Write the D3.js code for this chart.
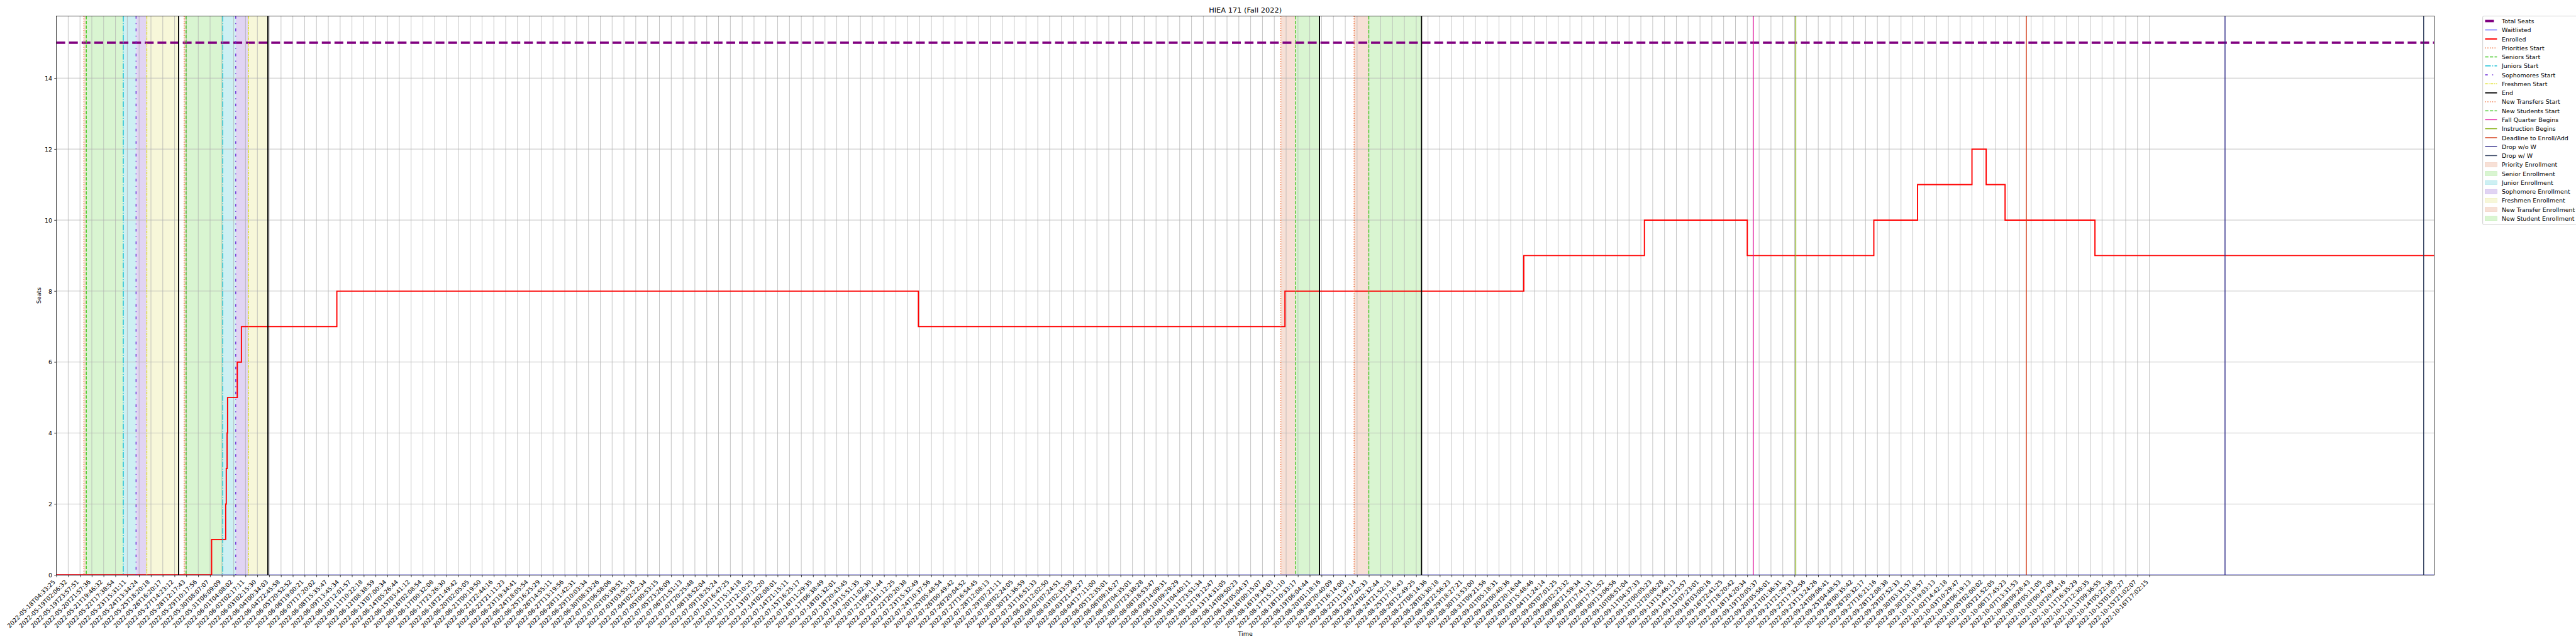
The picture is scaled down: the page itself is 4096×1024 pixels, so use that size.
<!DOCTYPE html>
<html><head><meta charset="utf-8">
<script src="https://cdn.jsdelivr.net/npm/d3@7"></script>
<style>
body{margin:0;background:#fff}
svg{display:block}
text{font-family:"DejaVu Sans",sans-serif}
</style>
</head><body>
<svg id="chart" width="4096" height="1024"></svg>
<script>
// ---------------- DATA ----------------
const chartTitle = "HIEA 171 (Fall 2022)";
const xAxisTitle = "Time";
const yAxisTitle = "Seats";

const tickLabels = [
"2022-05-18T04:33:25","2022-05-19T02:06:32","2022-05-19T23:57:51","2022-05-20T21:57:36","2022-05-21T19:46:32",
"2022-05-22T17:38:54","2022-05-23T15:31:11","2022-05-24T13:34:24","2022-05-25T18:20:18","2022-05-26T16:20:17",
"2022-05-27T14:23:12","2022-05-28T12:17:43","2022-05-29T10:17:56","2022-05-30T08:07:07","2022-05-31T06:09:09",
"2022-06-01T04:08:02","2022-06-02T02:17:11","2022-06-03T02:15:30","2022-06-04T00:34:03","2022-06-04T22:45:58",
"2022-06-05T20:52:52","2022-06-06T19:00:21","2022-06-07T17:20:02","2022-06-08T15:35:47","2022-06-09T13:45:34",
"2022-06-10T12:01:57","2022-06-11T10:22:18","2022-06-12T08:38:59","2022-06-13T07:00:34","2022-06-14T05:26:44",
"2022-06-15T03:41:12","2022-06-16T02:08:54","2022-06-17T00:32:08","2022-06-17T23:26:30","2022-06-18T21:49:42",
"2022-06-20T02:05:05","2022-06-21T00:19:50","2022-06-21T22:44:16","2022-06-22T21:11:23","2022-06-23T19:34:41",
"2022-06-24T18:05:54","2022-06-25T16:25:29","2022-06-26T14:55:11","2022-06-27T13:19:56","2022-06-28T11:42:31",
"2022-06-29T10:03:34","2022-06-30T08:33:26","2022-07-01T06:58:06","2022-07-02T05:39:51","2022-07-03T03:55:16",
"2022-07-04T02:22:34","2022-07-05T00:53:15","2022-07-05T23:26:09","2022-07-06T21:51:13","2022-07-07T20:25:48",
"2022-07-08T18:52:04","2022-07-09T18:25:24","2022-07-10T16:47:25","2022-07-11T15:14:18","2022-07-12T12:10:25",
"2022-07-13T07:12:20","2022-07-14T02:08:01","2022-07-14T21:15:11","2022-07-15T16:25:17","2022-07-16T11:29:35",
"2022-07-17T06:38:49","2022-07-18T01:32:01","2022-07-18T20:43:45","2022-07-19T15:51:35","2022-07-20T11:02:30",
"2022-07-21T06:11:44","2022-07-22T01:12:25","2022-07-22T20:20:38","2022-07-23T15:32:49","2022-07-24T10:37:56",
"2022-07-25T05:48:54","2022-07-26T00:49:42","2022-07-26T20:04:52","2022-07-27T16:54:45","2022-07-28T12:08:13",
"2022-07-29T07:21:11","2022-07-30T02:24:05","2022-07-30T21:36:59","2022-07-31T16:51:33","2022-08-01T12:02:50",
"2022-08-02T07:24:51","2022-08-03T02:33:59","2022-08-03T21:49:27","2022-08-04T17:11:00","2022-08-05T12:35:01",
"2022-08-06T09:16:27","2022-08-07T04:35:01","2022-08-07T23:38:28","2022-08-08T18:53:47","2022-08-09T14:09:31",
"2022-08-10T09:29:29","2022-08-11T04:40:11","2022-08-11T23:51:34","2022-08-12T19:12:47","2022-08-13T14:31:05",
"2022-08-14T09:50:23","2022-08-15T05:04:37","2022-08-16T00:15:07","2022-08-16T19:34:03","2022-08-17T15:11:10",
"2022-08-18T10:33:17","2022-08-19T06:04:44","2022-08-20T01:18:16","2022-08-20T20:40:09","2022-08-21T16:14:00",
"2022-08-22T11:37:14","2022-08-23T07:02:33","2022-08-24T02:32:44","2022-08-24T21:52:15","2022-08-25T17:16:43",
"2022-08-26T12:49:25","2022-08-27T08:14:36","2022-08-28T03:30:18","2022-08-28T22:56:23","2022-08-29T18:27:21",
"2022-08-30T13:53:00","2022-08-31T09:21:56","2022-09-01T05:18:31","2022-09-02T00:40:36","2022-09-02T20:16:04",
"2022-09-03T15:48:46","2022-09-04T11:24:14","2022-09-05T07:01:25","2022-09-06T02:23:32","2022-09-06T21:59:34",
"2022-09-07T17:41:31","2022-09-08T17:31:52","2022-09-09T13:06:56","2022-09-10T08:51:04","2022-09-11T04:37:33",
"2022-09-12T00:05:23","2022-09-12T20:06:28","2022-09-13T15:46:13","2022-09-14T11:23:57","2022-09-15T07:23:01",
"2022-09-16T03:00:16","2022-09-16T22:41:25","2022-09-17T18:20:42","2022-09-18T14:20:34","2022-09-19T10:05:37",
"2022-09-20T05:56:01","2022-09-21T01:36:31","2022-09-21T21:29:33","2022-09-22T17:32:56","2022-09-23T13:24:26",
"2022-09-24T09:06:41","2022-09-25T04:48:53","2022-09-26T00:35:42","2022-09-26T20:32:17","2022-09-27T16:21:16",
"2022-09-28T12:08:38","2022-09-29T07:52:33","2022-09-30T03:31:57","2022-09-30T23:19:57","2022-10-01T19:03:13",
"2022-10-02T14:42:18","2022-10-03T10:29:47","2022-10-04T06:19:13","2022-10-05T02:00:02","2022-10-05T21:52:05",
"2022-10-06T17:45:23","2022-10-07T13:31:53","2022-10-08T09:28:43","2022-10-09T05:11:05","2022-10-10T00:47:09",
"2022-10-10T20:44:16","2022-10-11T16:35:29","2022-10-12T12:30:35","2022-10-13T09:36:55","2022-10-14T05:22:36",
"2022-10-15T01:07:27","2022-10-15T21:02:07","2022-10-16T17:02:15"
];

// x positions are expressed in tick-index units
const xEnd = 201.1;
const yTicks = [0, 2, 4, 6, 8, 10, 12, 14];

const totalSeatsX = [0, 201.1];
const totalSeatsY = [15, 15];

const waitlistedX = [0, 201.1];
const waitlistedY = [0, 0];

const enrolledX = [0, 13.13, 14.32, 14.37, 14.44, 14.48, 15.30, 15.65, 23.72, 72.9, 103.9, 124.1, 134.3, 143.0, 153.7, 157.4, 162.0, 163.2, 164.8, 172.4, 201.1];
const enrolledY = [0, 1, 2, 3, 4, 5, 6, 7, 8, 7, 8, 9, 10, 9, 10, 11, 12, 11, 10, 9, 9];

const eventNames = [
 "Priorities Start","Seniors Start","Juniors Start","Sophomores Start","Freshmen Start","End",
 "Priorities Start","Seniors Start","Juniors Start","Sophomores Start","Freshmen Start","End",
 "New Transfers Start","New Students Start","End",
 "New Transfers Start","New Students Start","End",
 "Fall Quarter Begins","Instruction Begins","Deadline to Enroll/Add","Drop w/o W","Drop w/ W"
];
const eventX = [
 2.33, 2.53, 5.66, 6.74, 7.65, 10.34,
 10.81, 10.97, 14.07, 15.17, 16.26, 17.89,
 103.55, 104.81, 106.82,
 109.75, 110.99, 115.45,
 143.5, 147.1, 166.6, 183.4, 200.2
];

const spanNames = [
 "Priority Enrollment","Senior Enrollment","Junior Enrollment","Sophomore Enrollment","Freshmen Enrollment",
 "Priority Enrollment","Senior Enrollment","Junior Enrollment","Sophomore Enrollment","Freshmen Enrollment",
 "New Transfer Enrollment","New Student Enrollment",
 "New Transfer Enrollment","New Student Enrollment"
];
const spanStart = [2.33, 2.53, 5.66, 6.74, 7.65, 10.81, 10.97, 14.07, 15.17, 16.26, 103.55, 104.81, 109.75, 110.99];
const spanEnd   = [2.53, 5.66, 6.74, 7.65, 10.34, 10.97, 14.07, 15.17, 16.26, 17.89, 104.81, 106.82, 110.99, 115.45];

const legendOrder = [
 "Total Seats","Waitlisted","Enrolled","Priorities Start","Seniors Start","Juniors Start","Sophomores Start",
 "Freshmen Start","End","New Transfers Start","New Students Start","Fall Quarter Begins","Instruction Begins",
 "Deadline to Enroll/Add","Drop w/o W","Drop w/ W","Priority Enrollment","Senior Enrollment","Junior Enrollment",
 "Sophomore Enrollment","Freshmen Enrollment","New Transfer Enrollment","New Student Enrollment"
];

// ---------------- STYLES ----------------
const PX = 100/72; // points -> px at 100 dpi
const lineStyle = {
 "Total Seats":        {color:"#800080", w:4*PX,   dash:[3.7*4*PX, 1.6*4*PX]},
 "Waitlisted":         {color:"#0000ff", w:1*PX,   dash:null},
 "Enrolled":           {color:"#ff0000", w:2*PX,   dash:null},
 "Priorities Start":   {color:"#ee6a33", w:1.5*PX, dash:[1*1.5*PX, 1.65*1.5*PX]},
 "Seniors Start":      {color:"#3cc81e", w:1.5*PX, dash:[3.7*1.5*PX, 1.6*1.5*PX]},
 "Juniors Start":      {color:"#17c0d6", w:1.5*PX, dash:[6.4*1.5*PX, 1.6*1.5*PX, 1*1.5*PX, 1.6*1.5*PX]},
 "Sophomores Start":   {color:"#6a2bd8", w:1.5*PX, dash:[3*1.5*PX, 5*1.5*PX, 1*1.5*PX, 5*1.5*PX]},
 "Freshmen Start":     {color:"#e0e02a", w:1.5*PX, dash:[3*1.5*PX, 1*1.5*PX, 1*1.5*PX, 1*1.5*PX]},
 "End":                {color:"#000000", w:2*PX,   dash:null},
 "New Transfers Start":{color:"#ee6a33", w:1.5*PX, dash:[1*1.5*PX, 1.65*1.5*PX]},
 "New Students Start": {color:"#3cc81e", w:1.5*PX, dash:[3.7*1.5*PX, 1.6*1.5*PX]},
 "Fall Quarter Begins":{color:"#de119b", w:1.5*PX, dash:null},
 "Instruction Begins": {color:"#8ab21b", w:1.5*PX, dash:null},
 "Deadline to Enroll/Add":{color:"#d4421e", w:1.5*PX, dash:null},
 "Drop w/o W":         {color:"#2e2a88", w:1.5*PX, dash:null},
 "Drop w/ W":          {color:"#2c3a5a", w:1.5*PX, dash:null}
};
const spanStyle = {
 "Priority Enrollment":    {fill:"#f7e0d6", edge:"#f2cfbf"},
 "Senior Enrollment":      {fill:"#d9f5d1", edge:"#c5edb9"},
 "Junior Enrollment":      {fill:"#cdf0f3", edge:"#b5e8ee"},
 "Sophomore Enrollment":   {fill:"#e1d4f3", edge:"#cdb9ee"},
 "Freshmen Enrollment":    {fill:"#f7f7d9", edge:"#efefbd"},
 "New Transfer Enrollment":{fill:"#f7e0d6", edge:"#f2cfbf"},
 "New Student Enrollment": {fill:"#d9f5d1", edge:"#c5edb9"}
};

// ---------------- LAYOUT (reference pixels, scaled to window) ----------------
const S = 4096/6000;
const FS = 10*PX;           // 10pt font
const M = {left:131.25, right:5670, top:37.3, bottom:1339.3};

const svg = d3.select("#chart");
const root = svg.append("g").attr("transform", `scale(${S})`);
root.append("rect").attr("width",6000).attr("height",1500).attr("fill","#fff");

const x = d3.scaleLinear().domain([0, xEnd]).range([M.left, M.right]);
const y = d3.scaleLinear().domain([0, 15.75]).range([M.bottom, M.top]);

const clipId = "plotclip";
root.append("clipPath").attr("id", clipId).append("rect")
  .attr("x", M.left).attr("y", M.top).attr("width", M.right-M.left).attr("height", M.bottom-M.top);

const plot = root.append("g").attr("clip-path", `url(#${clipId})`);

// spans
plot.append("g").selectAll("rect").data(spanNames.map((n,i)=>({n, a:spanStart[i], b:spanEnd[i]})))
  .join("rect")
  .attr("x", d=>x(d.a)).attr("width", d=>x(d.b)-x(d.a))
  .attr("y", M.top).attr("height", M.bottom-M.top)
  .attr("fill", d=>spanStyle[d.n].fill);

// grid
const gridTicks = d3.range(tickLabels.length);
plot.append("g").selectAll("line").data(gridTicks).join("line")
  .attr("x1", d=>x(d)).attr("x2", d=>x(d)).attr("y1", M.top).attr("y2", M.bottom)
  .attr("stroke", "#b0b0b0").attr("stroke-width", 0.8*PX);
plot.append("g").selectAll("line").data(yTicks).join("line")
  .attr("y1", d=>y(d)).attr("y2", d=>y(d)).attr("x1", M.left).attr("x2", M.right)
  .attr("stroke", "#b0b0b0").attr("stroke-width", 0.8*PX);

// series lines
function drawLine(xs, ys, name, curve){
  const st = lineStyle[name];
  const gen = d3.line().x(d=>x(d[0])).y(d=>y(d[1])).curve(curve || d3.curveLinear);
  plot.append("path").datum(xs.map((v,i)=>[v, ys[i]]))
    .attr("d", gen).attr("fill","none")
    .attr("stroke", st.color).attr("stroke-width", st.w)
    .attr("stroke-dasharray", st.dash ? st.dash.join(",") : null);
}
drawLine(totalSeatsX, totalSeatsY, "Total Seats");
drawLine(waitlistedX, waitlistedY, "Waitlisted", d3.curveStepAfter);
drawLine(enrolledX, enrolledY, "Enrolled", d3.curveStepAfter);

// event lines
plot.append("g").selectAll("line").data(eventNames.map((n,i)=>({n, v:eventX[i]})))
  .join("line")
  .attr("x1", d=>x(d.v)).attr("x2", d=>x(d.v)).attr("y1", M.top).attr("y2", M.bottom)
  .attr("stroke", d=>lineStyle[d.n].color).attr("stroke-width", d=>lineStyle[d.n].w)
  .attr("stroke-dasharray", d=>lineStyle[d.n].dash ? lineStyle[d.n].dash.join(",") : null);

// axes
const tickLen = 3.5*PX, tickPad = 3.5*PX;
const xAxis = d3.axisBottom(x).tickValues(gridTicks).tickFormat(i=>tickLabels[i]).tickSize(tickLen).tickSizeOuter(0);
const gx = root.append("g").attr("transform", `translate(0,${M.bottom})`).call(xAxis);
gx.select(".domain").remove();
gx.selectAll(".tick line").attr("stroke","#000").attr("stroke-width", 0.8*PX);
gx.selectAll(".tick text")
  .attr("y", null).attr("dy", null).attr("x", null)
  .attr("text-anchor","end")
  .attr("font-size", FS).attr("fill","#000")
  .attr("transform", `translate(${-0.707*0.22*FS},${tickLen+tickPad+0.707*0.76*FS}) rotate(-45)`);

const yAxis = d3.axisLeft(y).tickValues(yTicks).tickFormat(d3.format("d")).tickSize(tickLen).tickPadding(tickPad).tickSizeOuter(0);
const gy = root.append("g").attr("transform", `translate(${M.left},0)`).call(yAxis);
gy.select(".domain").remove();
gy.selectAll(".tick line").attr("stroke","#000").attr("stroke-width", 0.8*PX);
gy.selectAll(".tick text").attr("font-size", FS).attr("fill","#000").attr("dy", "0.36em");

// spines
root.append("rect").attr("x", M.left).attr("y", M.top).attr("width", M.right-M.left).attr("height", M.bottom-M.top)
  .attr("fill","none").attr("stroke","#000").attr("stroke-width", 0.8*PX);

// titles
root.append("text").attr("x", (M.left+M.right)/2).attr("y", 29).attr("text-anchor","middle")
  .attr("font-size", 12*PX).attr("fill","#000").text(chartTitle);
root.append("text").attr("x", (M.left+M.right)/2).attr("y", 1481).attr("text-anchor","middle")
  .attr("font-size", FS).attr("fill","#000").text(xAxisTitle);
root.append("text").attr("transform", `translate(95,${(M.top+M.bottom)/2}) rotate(-90)`).attr("text-anchor","middle")
  .attr("font-size", FS).attr("fill","#000").text(yAxisTitle);

// legend
const L = {x:5782.7, y:37.3, row:20.9, first:11.7};
const lg = root.append("g").attr("transform", `translate(${L.x},${L.y})`);
lg.append("rect").attr("x",0).attr("y",0).attr("rx",2.8).attr("ry",2.8)
  .attr("width", 6000-L.x+5).attr("height", L.first + (legendOrder.length-1)*L.row + 14.5)
  .attr("fill","#fff").attr("fill-opacity",0.8).attr("stroke","#cccccc").attr("stroke-width", 1*PX);
const hx0 = 0.4*FS, hlen = 2*FS, tx = hx0 + hlen + 0.8*FS;
legendOrder.forEach((name, i)=>{
  const cy = L.first + i*L.row;
  const g = lg.append("g").attr("transform", `translate(0,${cy})`);
  if (lineStyle[name]) {
    const st = lineStyle[name];
    g.append("line").attr("x1", hx0).attr("x2", hx0+hlen).attr("y1",0).attr("y2",0)
      .attr("stroke", st.color).attr("stroke-width", st.w)
      .attr("stroke-dasharray", st.dash ? st.dash.join(",") : null);
  } else {
    const st = spanStyle[name];
    g.append("rect").attr("x", hx0).attr("y", -0.35*FS).attr("width", hlen).attr("height", 0.7*FS)
      .attr("fill", st.fill).attr("stroke", st.edge).attr("stroke-width", 1);
  }
  g.append("text").attr("x", tx).attr("y", 0.38*FS).attr("font-size", FS).attr("fill","#000").text(name);
});
</script>
</body></html>
